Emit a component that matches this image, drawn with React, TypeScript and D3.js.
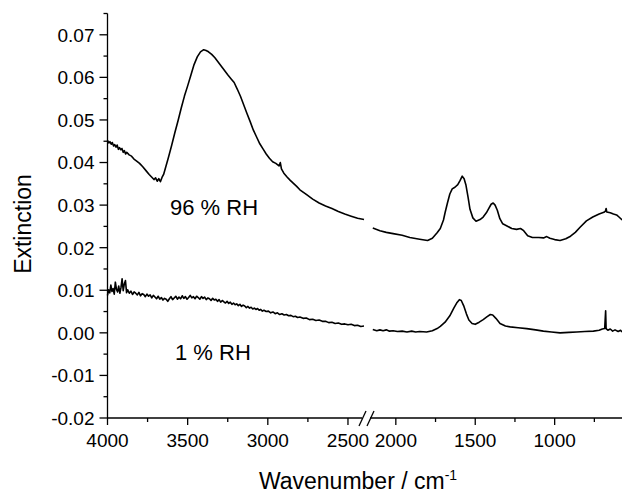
import * as d3 from 'd3';

// wavenumber (cm-1), extinction
const rh96Left: [number, number][] = [
  [4000, 0.0452], [3992, 0.0446], [3985, 0.0449], [3977, 0.0443], [3970, 0.0447],
  [3962, 0.0439], [3955, 0.0442], [3947, 0.0436], [3940, 0.0441], [3932, 0.0431],
  [3925, 0.0435], [3917, 0.043], [3910, 0.0433], [3902, 0.0424], [3895, 0.0428],
  [3887, 0.042], [3880, 0.0424], [3865, 0.0418], [3850, 0.0415], [3835, 0.0408],
  [3820, 0.0404], [3800, 0.0398], [3780, 0.039], [3760, 0.0381], [3740, 0.0372],
  [3725, 0.0366], [3710, 0.036], [3700, 0.0364], [3690, 0.0356], [3680, 0.0362],
  [3670, 0.0355], [3660, 0.0365], [3650, 0.0372], [3635, 0.0392], [3620, 0.0412],
  [3600, 0.044], [3580, 0.047], [3560, 0.0498], [3540, 0.0528], [3520, 0.0556],
  [3500, 0.058], [3480, 0.0605], [3460, 0.063], [3440, 0.0648], [3420, 0.066],
  [3400, 0.0665], [3385, 0.0663], [3370, 0.066], [3350, 0.0654], [3330, 0.0646],
  [3310, 0.0636], [3290, 0.0626], [3270, 0.0616], [3250, 0.0606], [3230, 0.0597],
  [3210, 0.0588], [3190, 0.0572], [3170, 0.0555], [3150, 0.0535], [3130, 0.0515],
  [3110, 0.0496], [3090, 0.0476], [3070, 0.046], [3050, 0.0444], [3030, 0.0432],
  [3010, 0.042], [2990, 0.041], [2970, 0.0402], [2950, 0.0398], [2930, 0.0392],
  [2922, 0.04], [2915, 0.0385], [2900, 0.0375], [2880, 0.0366], [2860, 0.0358],
  [2840, 0.0351], [2820, 0.0344], [2800, 0.0336], [2760, 0.0325], [2720, 0.0314],
  [2680, 0.0305], [2640, 0.0298], [2600, 0.0292], [2560, 0.0285], [2520, 0.0279],
  [2480, 0.0274], [2440, 0.0269], [2400, 0.0266],
];

const rh96Right: [number, number][] = [
  [2145, 0.0246], [2100, 0.024], [2060, 0.0236], [2017, 0.0233], [1960, 0.0229],
  [1912, 0.0224], [1850, 0.022], [1800, 0.0217], [1770, 0.0222], [1740, 0.0235],
  [1720, 0.0245], [1700, 0.0265], [1690, 0.0282], [1675, 0.0305], [1660, 0.0326],
  [1645, 0.0338], [1628, 0.0342], [1610, 0.0348], [1595, 0.0358], [1582, 0.0368],
  [1570, 0.0362], [1559, 0.0348], [1545, 0.0318], [1533, 0.029], [1515, 0.027],
  [1495, 0.0262], [1470, 0.0266], [1450, 0.0272], [1430, 0.0282], [1418, 0.029],
  [1400, 0.0302], [1387, 0.0305], [1375, 0.03], [1361, 0.0288], [1345, 0.0268],
  [1327, 0.0256], [1300, 0.0251], [1270, 0.0245], [1240, 0.0243], [1215, 0.0245],
  [1195, 0.024], [1170, 0.0228], [1140, 0.0224], [1100, 0.0224], [1070, 0.0223],
  [1050, 0.0226], [1030, 0.0222], [1000, 0.0219], [966, 0.0217], [930, 0.0221],
  [900, 0.0227], [870, 0.0236], [840, 0.0248], [800, 0.0263], [760, 0.0272],
  [720, 0.0279], [690, 0.0283], [680, 0.0286], [676, 0.0292], [672, 0.0284],
  [650, 0.0282], [630, 0.0279], [610, 0.0277], [595, 0.0272], [575, 0.0265],
];

const rh1Left: [number, number][] = [
  [4000, 0.0088], [3993, 0.0101], [3986, 0.0094], [3979, 0.0112], [3972, 0.0097],
  [3965, 0.0104], [3958, 0.0091], [3951, 0.0119], [3944, 0.0102], [3937, 0.0096],
  [3930, 0.011], [3923, 0.0093], [3916, 0.0106], [3909, 0.0127], [3902, 0.0099],
  [3895, 0.0115], [3888, 0.0123], [3881, 0.0094], [3874, 0.0101], [3864, 0.0093],
  [3854, 0.0098], [3844, 0.009], [3834, 0.0096], [3824, 0.0093], [3814, 0.0089],
  [3804, 0.0095], [3794, 0.0087], [3784, 0.0092], [3774, 0.009], [3764, 0.0085],
  [3754, 0.0091], [3744, 0.0086], [3734, 0.0089], [3724, 0.0082], [3714, 0.0088],
  [3704, 0.0084], [3694, 0.008], [3684, 0.0086], [3674, 0.0079], [3664, 0.0083],
  [3654, 0.0077], [3644, 0.0081], [3634, 0.0079], [3624, 0.0074], [3614, 0.008],
  [3604, 0.0085], [3594, 0.0078], [3584, 0.0082], [3574, 0.0086], [3564, 0.0079],
  [3554, 0.0084], [3544, 0.008], [3534, 0.0087], [3524, 0.0081], [3514, 0.0085],
  [3504, 0.0079], [3494, 0.0083], [3484, 0.0088], [3474, 0.0082], [3464, 0.0085],
  [3454, 0.008], [3444, 0.0086], [3434, 0.0083], [3424, 0.0079], [3414, 0.0085],
  [3404, 0.0081], [3394, 0.0084], [3384, 0.0078], [3374, 0.0082], [3364, 0.008],
  [3354, 0.0076], [3344, 0.0081], [3334, 0.0077], [3324, 0.0079], [3314, 0.0074],
  [3304, 0.0078], [3294, 0.0072], [3284, 0.0076], [3274, 0.0073], [3264, 0.007],
  [3254, 0.0074], [3244, 0.0069], [3234, 0.0072], [3224, 0.0067], [3214, 0.007],
  [3204, 0.0066], [3194, 0.0068], [3184, 0.0064], [3174, 0.0067], [3164, 0.0062],
  [3154, 0.0065], [3144, 0.0063], [3134, 0.0059], [3124, 0.0062], [3114, 0.0058],
  [3104, 0.006], [3094, 0.0056], [3084, 0.0058], [3074, 0.0055], [3064, 0.0057],
  [3054, 0.0053], [3044, 0.0055], [3034, 0.0051], [3024, 0.0053], [3010, 0.005],
  [2996, 0.0051], [2982, 0.0047], [2968, 0.0049], [2954, 0.0045], [2940, 0.0047],
  [2926, 0.0043], [2912, 0.0045], [2898, 0.0042], [2884, 0.0043], [2870, 0.004],
  [2856, 0.0041], [2842, 0.0038], [2828, 0.0039], [2814, 0.0036], [2800, 0.0037],
  [2780, 0.0034], [2760, 0.0035], [2740, 0.0031], [2720, 0.0032], [2700, 0.0029],
  [2680, 0.003], [2660, 0.0027], [2640, 0.0027], [2620, 0.0024], [2600, 0.0025],
  [2580, 0.0022], [2560, 0.0023], [2540, 0.002], [2520, 0.0021], [2500, 0.0019],
  [2480, 0.002], [2460, 0.0017], [2440, 0.0018], [2420, 0.0015], [2400, 0.0016],
];

const rh1Right: [number, number][] = [
  [2145, 0.0008], [2120, 0.0005], [2100, 0.0007], [2080, 0.0005], [2060, 0.0007],
  [2040, 0.0004], [2017, 0.0005], [1990, 0.0003], [1960, 0.0004], [1930, 0.0002],
  [1900, 0.0004], [1875, 0.0002], [1850, 0.0003], [1806, 0.0002], [1770, 0.0005],
  [1740, 0.001], [1720, 0.0015], [1690, 0.0025], [1660, 0.004], [1635, 0.0058],
  [1617, 0.007], [1600, 0.0078], [1588, 0.0076], [1571, 0.0062], [1555, 0.0044],
  [1540, 0.003], [1520, 0.0022], [1500, 0.002], [1475, 0.0025], [1450, 0.0031],
  [1425, 0.0038], [1405, 0.0043], [1390, 0.0042], [1370, 0.0034], [1344, 0.0022],
  [1310, 0.0016], [1280, 0.0014], [1230, 0.0012], [1176, 0.001], [1120, 0.0007],
  [1071, 0.0004], [1020, 0.0002], [966, 0.0], [910, 0.0001], [861, 0.0002],
  [810, 0.0003], [756, 0.0004], [720, 0.0006], [700, 0.0009], [685, 0.001],
  [679, 0.0052], [676, 0.001], [665, 0.0006], [650, 0.0009], [635, 0.0004],
  [620, 0.0007], [600, 0.0003], [585, 0.0006], [575, 0.0002],
];

const leftMajor = [4000, 3500, 3000, 2500];
const leftMinor = [3750, 3250, 2750];
const rightMajor = [2000, 1500, 1000];
const rightMinor = [1750, 1250, 750];
const yMajor = [-0.02, -0.01, 0, 0.01, 0.02, 0.03, 0.04, 0.05, 0.06, 0.07];
const yMinor = [-0.015, -0.005, 0.005, 0.015, 0.025, 0.035, 0.045, 0.055, 0.065, 0.075];

const W = 622;
const H = 494;
const font = '"Liberation Sans", Arial, sans-serif';

export default function App() {
  const axisX = 107.5;
  const axisY = 418;
  const xLeft = d3.scaleLinear().domain([4000, 2400]).range([axisX, 364]);
  const xRight = d3.scaleLinear().domain([2150, 576]).range([372, 622]);
  const y = d3.scaleLinear().domain([-0.02, 0.075]).range([axisY, 13.5]);

  const lineL = d3.line<[number, number]>().x(d => xLeft(d[0])).y(d => y(d[1]));
  const lineR = d3.line<[number, number]>().x(d => xRight(d[0])).y(d => y(d[1]));

  const xTicks = (scale: d3.ScaleLinear<number, number>, vals: number[], len: number, label: boolean) =>
    vals.map(v => (
      <g key={`${v}-${len}`} transform={`translate(${scale(v)},${axisY})`}>
        <line y2={len} stroke="#000" strokeWidth={1.3} />
        {label && (
          <text y={29} textAnchor="middle" fontSize={19} fontFamily={font}>
            {v}
          </text>
        )}
      </g>
    ));

  return (
    <svg width={W} height={H} style={{ position: 'absolute', left: 0, top: 0 }}>
      <rect width={W} height={H} fill="#fff" />
      {/* y axis */}
      <line x1={axisX} x2={axisX} y1={y(0.075)} y2={axisY} stroke="#000" strokeWidth={1.3} />
      {yMajor.map(v => (
        <g key={v} transform={`translate(${axisX},${y(v)})`}>
          <line x2={-8} stroke="#000" strokeWidth={1.3} />
          <text x={-13} dy="0.36em" textAnchor="end" fontSize={19} fontFamily={font}>
            {v.toFixed(2)}
          </text>
        </g>
      ))}
      {yMinor.map(v => (
        <line key={v} x1={axisX} x2={axisX - 4} y1={y(v)} y2={y(v)} stroke="#000" strokeWidth={1.3} />
      ))}
      {/* broken x axis */}
      <line x1={axisX} x2={362} y1={axisY} y2={axisY} stroke="#000" strokeWidth={1.3} />
      <line x1={370} x2={622} y1={axisY} y2={axisY} stroke="#000" strokeWidth={1.3} />
      <line x1={359} x2={366} y1={426} y2={411} stroke="#000" strokeWidth={1.3} />
      <line x1={367} x2={374} y1={426} y2={411} stroke="#000" strokeWidth={1.3} />
      {xTicks(xLeft, leftMajor, 7, true)}
      {xTicks(xLeft, leftMinor, 4, false)}
      {xTicks(xRight, rightMajor, 7, true)}
      {xTicks(xRight, rightMinor, 4, false)}

      {/* spectra */}
      <g fill="none" stroke="#000" strokeWidth={1.6} strokeLinejoin="round">
        <path d={lineL(rh96Left) ?? ''} />
        <path d={lineR(rh96Right) ?? ''} />
        <path d={lineL(rh1Left) ?? ''} />
        <path d={lineR(rh1Right) ?? ''} />
      </g>

      <text x={170} y={215} fontSize={22} fontFamily={font}>96 % RH</text>
      <text x={175} y={360} fontSize={22} fontFamily={font}>1 % RH</text>

      <text x={358} y={489} textAnchor="middle" fontSize={23} fontFamily={font}>
        Wavenumber / cm<tspan dy={-9} fontSize={14}>-1</tspan>
      </text>
      <text transform="translate(31,224) rotate(-90)" textAnchor="middle" fontSize={23} fontFamily={font}>
        Extinction
      </text>
    </svg>
  );
}
